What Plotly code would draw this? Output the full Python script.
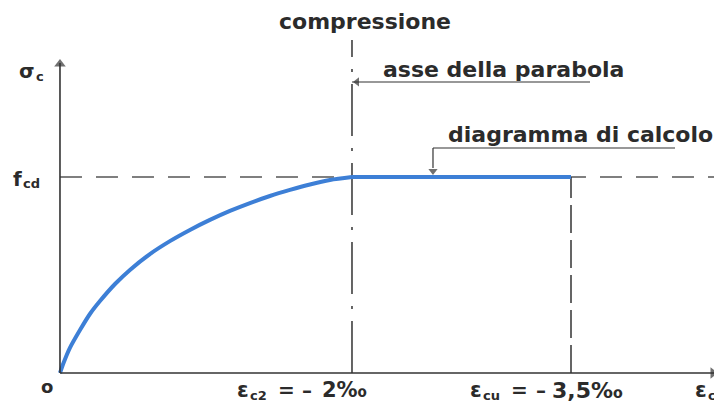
import plotly.graph_objects as go

# --- data (strain in ‰ magnitude, stress normalised to fcd) ---
eps_curve = [0.0, 0.027, 0.068, 0.137, 0.205, 0.274, 0.377, 0.479, 0.616, 0.753,
             0.89, 1.027, 1.164, 1.301, 1.438, 1.575, 1.712, 1.849, 2.0]
sigma_curve = [0.0, 0.056, 0.128, 0.219, 0.301, 0.367, 0.454, 0.526, 0.607, 0.673,
               0.73, 0.781, 0.827, 0.867, 0.903, 0.934, 0.962, 0.985, 1.0]
eps_flat = [2.0, 3.5]
sigma_flat = [1.0, 1.0]
eps_c2 = 2.0
eps_cu = 3.5
fcd = 1.0
title_text = "compressione"
note_axis = "asse della parabola"
note_diag = "diagramma di calcolo"

FONT = "DejaVu Sans"
TXT = "#2b2b2b"
LINE = "#333333"
BLUE = "#3d7fd6"

# pixel helpers (page pixels of the picture -> data units)
def px2x(px):
    return (px - 60) / 146.0

def py2y(py):
    return (373 - py) / 196.0

fig = go.Figure()
fig.add_trace(go.Scatter(x=eps_curve, y=sigma_curve, mode="lines",
                         line=dict(color=BLUE, width=4, shape="spline", smoothing=0.8),
                         hoverinfo="skip", showlegend=False))
fig.add_trace(go.Scatter(x=eps_flat, y=sigma_flat, mode="lines",
                         line=dict(color=BLUE, width=4), hoverinfo="skip",
                         showlegend=False))

y_top = py2y(59)
x_end = px2x(719)
y_lead1 = py2y(82)
y_lead2 = py2y(148)
x_lead2 = px2x(433)

shapes = [
    dict(type="line", x0=0, x1=4.6, y0=fcd, y1=fcd, xref="x", yref="y",
         line=dict(color="#555555", width=1.5, dash="22px,14px"), layer="below"),
    dict(type="line", x0=eps_c2, x1=eps_c2, y0=0, y1=py2y(40), xref="x", yref="y",
         line=dict(color=LINE, width=1.5, dash="52px,12px,3px,12px"), layer="below"),
    dict(type="line", x0=eps_cu, x1=eps_cu, y0=0, y1=fcd, xref="x", yref="y",
         line=dict(color=LINE, width=1.5, dash="28px,7px"), layer="below"),
    dict(type="line", x0=0, x1=0, y0=0, y1=y_top - 0.02, xref="x", yref="y",
         line=dict(color=LINE, width=1.6)),
    dict(type="line", x0=0, x1=x_end - 0.03, y0=0, y1=0, xref="x", yref="y",
         line=dict(color=LINE, width=1.6)),
    dict(type="line", x0=eps_c2, x1=px2x(590), y0=y_lead1, y1=y_lead1, xref="x",
         yref="y", line=dict(color=LINE, width=1.2)),
    dict(type="line", x0=x_lead2, x1=px2x(675), y0=y_lead2, y1=y_lead2, xref="x",
         yref="y", line=dict(color=LINE, width=1.2)),
    dict(type="line", x0=x_lead2, x1=x_lead2, y0=py2y(168), y1=y_lead2, xref="x",
         yref="y", line=dict(color=LINE, width=1.2)),
]
fig.update_layout(shapes=shapes)

fig.add_trace(go.Scatter(
    x=[0, px2x(713), px2x(357), x_lead2],
    y=[py2y(64), 0, y_lead1, py2y(171)],
    mode="markers",
    marker=dict(symbol=["triangle-up", "triangle-right", "triangle-left",
                        "triangle-down"],
                size=[10, 10, 8, 8], color=LINE, line=dict(width=0)),
    hoverinfo="skip", showlegend=False))

ann = []

def label(px, py, text, size=20, anchor="center", bold=True):
    t = f"<b>{text}</b>" if bold else text
    ann.append(dict(x=px2x(px), y=py2y(py), xref="x", yref="y", text=t,
                    showarrow=False, font=dict(family=FONT, size=size, color=TXT),
                    xanchor=anchor, yanchor="middle", borderpad=0, borderwidth=0))

label(365, 22, title_text, 22)
label(503, 70, note_axis, 22)
label(580, 135, note_diag, 22)

label(35, 71, "σ", 20, "right")
label(36, 77, "c", 13, "left")
label(22, 179, "f", 20, "right")
label(23, 184, "cd", 13, "left")
label(47, 386, "o", 18)

BY = 390
SY = 395
label(249, BY, "ε", 21, "right")
label(250, SY, "c2", 13, "left")
label(287, BY, "=", 20)
label(307, BY, "–", 20)
label(322, BY, "2‰", 21, "left")

label(482, BY, "ε", 21, "right")
label(483, SY, "cu", 13, "left")
label(519, BY, "=", 20)
label(541, BY, "–", 20)
label(552, BY, "3,5‰", 22, "left")

label(707, BY, "ε", 21, "right")
label(708, SY, "c", 13, "left")

fig.update_layout(
    annotations=ann,
    width=722, height=408,
    margin=dict(l=0, r=0, t=0, b=0),
    paper_bgcolor="white", plot_bgcolor="white",
    xaxis=dict(range=[-0.356, 4.589], visible=False, fixedrange=True),
    yaxis=dict(range=[-0.2194, 1.8622], visible=False, fixedrange=True),
    showlegend=False,
)

fig.write_html("out.html")
